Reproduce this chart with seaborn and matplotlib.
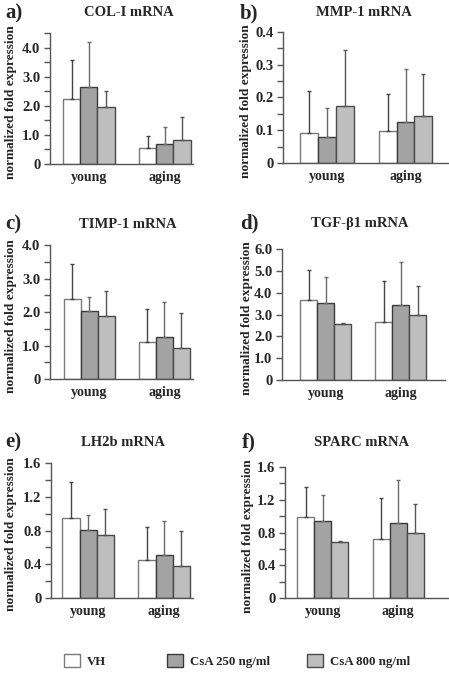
import numpy as np
import pandas as pd
import seaborn as sns
import matplotlib
matplotlib.use("Agg")
import matplotlib.pyplot as plt
from matplotlib.ticker import MultipleLocator, FuncFormatter
from matplotlib.patches import Patch

# data: means and tops of the (upper-only) error bars
groups = ["young", "aging"]
treatments = ["VH", "CsA 250 ng/ml", "CsA 800 ng/ml"]

col1_mean = [2.25, 2.64, 1.95, 0.56, 0.69, 0.81]
col1_top = [3.58, 4.19, 2.51, 0.95, 1.27, 1.63]
mmp1_mean = [0.093, 0.079, 0.175, 0.099, 0.126, 0.142]
mmp1_top = [0.221, 0.169, 0.345, 0.210, 0.288, 0.272]
timp1_mean = [2.38, 2.02, 1.88, 1.11, 1.25, 0.93]
timp1_top = [3.42, 2.46, 2.62, 2.10, 2.29, 1.97]
tgfb1_mean = [3.68, 3.51, 2.55, 2.66, 3.45, 2.96]
tgfb1_top = [5.06, 4.71, 2.61, 4.54, 5.39, 4.30]
lh2b_mean = [0.95, 0.81, 0.75, 0.45, 0.51, 0.38]
lh2b_top = [1.37, 0.98, 1.05, 0.84, 0.91, 0.79]
sparc_mean = [0.99, 0.94, 0.68, 0.72, 0.92, 0.79]
sparc_top = [1.35, 1.26, 0.70, 1.22, 1.44, 1.15]

fill_colors = ["#ffffff", "#a3a3a3", "#bebebe"]
edge_colors = ["#7a7a7a", "#3a3a3a", "#4a4a4a"]
err_colors = ["#444444", "#6a6a6a", "#555555"]

W, H = 449, 678
sns.set_style("ticks")
plt.rcParams["font.family"] = ["Liberation Serif", "DejaVu Serif"]
plt.rcParams["font.weight"] = "bold"

fig = plt.figure(figsize=(W / 100, H / 100), dpi=100)


def px_axes(left, right, top, bottom):
    return fig.add_axes([left / W, 1 - bottom / H, (right - left) / W, (bottom - top) / H])


# letter, title, means, tops, axes box (px), title x, label y, xlim, ylim, major, minor, fmt, ylabel x
panels = [
    ("a)", "COL-I mRNA", col1_mean, col1_top, (50, 193, 33, 164), 129, 13,
     (-0.51, 1.37), 4.5, 1.0, 0.5, "{:.1f}", 17),
    ("b)", "MMP-1 mRNA", mmp1_mean, mmp1_top, (283, 448, 32, 163), 364, 13,
     (-0.56, 1.54), 0.4, 0.1, 0.05, "{:.1f}", 252),
    ("c)", "TIMP-1 mRNA", timp1_mean, timp1_top, (50, 193, 245, 379), 128, 224,
     (-0.52, 1.38), 4.0, 1.0, 0.5, "{:.1f}", 17),
    ("d)", "TGF-\u03b21 mRNA", tgfb1_mean, tgfb1_top, (282, 445, 249, 380), 360, 223,
     (-0.58, 1.59), 6.0, 1.0, None, "{:.1f}", 253),
    ("e)", "LH2b mRNA", lh2b_mean, lh2b_top, (51, 193, 463, 598), 123, 442,
     (-0.49, 1.38), 1.6, 0.4, 0.2, "{:.1f}", 17),
    ("f)", "SPARC mRNA", sparc_mean, sparc_top, (285, 448, 467, 598), 362, 442,
     (-0.50, 1.66), 1.6, 0.4, 0.2, "{:.1f}", 254),
]
letter_x = {"a)": 5, "b)": 240, "c)": 5, "d)": 240, "e)": 5, "f)": 242}

for letter, title, means, tops, box, tx, ty, xlim, ymax, major, minor, fmt, ylx in panels:
    left, right, top, bottom = box
    ax = px_axes(left, right, top, bottom)
    df = pd.DataFrame({
        "age": [g for g in groups for _ in treatments],
        "treatment": treatments * len(groups),
        "mean": means,
        "top": tops,
    })
    sns.barplot(data=df, x="age", y="mean", hue="treatment", order=groups,
                hue_order=treatments, palette=fill_colors, errorbar=None,
                width=0.68, gap=0, ax=ax, legend=False, linewidth=1.0)
    bar_sets = list(ax.containers)
    for i, cont in enumerate(bar_sets):
        for bar in cont.patches:
            bar.set_edgecolor(edge_colors[i])
        sub = df[df["treatment"] == treatments[i]].set_index("age").loc[groups]
        xs = [b.get_x() + b.get_width() / 2 for b in cont.patches]
        ax.errorbar(xs, sub["mean"].values,
                    yerr=[np.zeros(len(xs)), (sub["top"] - sub["mean"]).values],
                    fmt="none", ecolor=err_colors[i], elinewidth=1.0,
                    capsize=1.5, capthick=1.0, zorder=1)

    ax.set_xlim(*xlim)
    ax.set_ylim(0, ymax)
    ax.yaxis.set_major_locator(MultipleLocator(major))
    if minor:
        ax.yaxis.set_minor_locator(MultipleLocator(minor))
    ax.yaxis.set_major_formatter(FuncFormatter(
        lambda v, p, f=fmt: "0" if abs(v) < 1e-9 else f.format(v)))
    sns.despine(ax=ax)
    for s in ["left", "bottom"]:
        ax.spines[s].set_color("#555555")
        ax.spines[s].set_linewidth(1.0)
    ax.tick_params(axis="y", which="both", length=4, width=1.0, color="#555555",
                   labelsize=10.5, pad=3)
    ax.tick_params(axis="x", length=0, labelsize=10, pad=5)
    for lab in ax.get_yticklabels() + ax.get_xticklabels():
        lab.set_fontweight("bold")
    ax.set_xlabel("")
    ax.set_ylabel("normalized fold expression", fontsize=9.6, fontweight="bold")
    ax.yaxis.set_label_coords((ylx - left) / (right - left), 0.47)

    fig.text(tx / W, 1 - ty / H, title, ha="center", va="center",
             fontsize=10.5, fontweight="bold")
    fig.text(letter_x[letter] / W, 1 - ty / H, letter, ha="left", va="center",
             fontsize=15, fontweight="bold")

# legend row at the bottom, one entry each
legend_x = [64, 167, 307]
for i, name in enumerate(treatments):
    h = Patch(facecolor=fill_colors[i], edgecolor=edge_colors[i], linewidth=1.0)
    fig.legend(handles=[h], labels=[name], loc="center left",
               bbox_to_anchor=(legend_x[i] / W, 1 - 661 / H), frameon=False,
               handlelength=1.2, handleheight=1.2, handletextpad=0.6,
               borderpad=0, borderaxespad=0,
               prop={"family": "Liberation Serif", "weight": "bold", "size": 9.3})

fig.savefig("out.png", dpi=100)
